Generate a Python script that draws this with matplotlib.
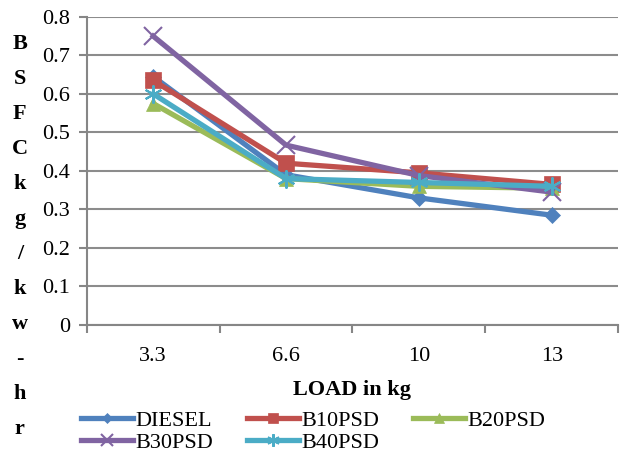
import matplotlib
matplotlib.use("Agg")
import matplotlib.pyplot as plt
import numpy as np

categories = ["3.3", "6.6", "10", "13"]
series_names = ["DIESEL", "B10PSD", "B20PSD", "B30PSD", "B40PSD"]
diesel = [0.645, 0.39, 0.33, 0.285]
b10psd = [0.635, 0.42, 0.395, 0.365]
b20psd = [0.575, 0.38, 0.36, 0.355]
b30psd = [0.75, 0.467, 0.388, 0.345]
b40psd = [0.60, 0.38, 0.37, 0.36]
y_ticks = [0, 0.1, 0.2, 0.3, 0.4, 0.5, 0.6, 0.7, 0.8]
y_tick_labels = ["0", "0.1", "0.2", "0.3", "0.4", "0.5", "0.6", "0.7", "0.8"]

colors = ["#4F81BD", "#C0504D", "#9BBB59", "#8064A2", "#4BACC6"]
markers = ["D", "s", "^", "x", (6, 2, 0)]
msizes = [8, 11, 10, 13, 13]

plt.rcParams['font.family'] = ['Liberation Serif', 'DejaVu Serif']
FS = 16

fig = plt.figure(figsize=(6.2, 4.57), dpi=100)
ax = fig.add_axes([0.140, 0.289, 0.857, 0.674])

x = np.arange(len(categories))
data = [diesel, b10psd, b20psd, b30psd, b40psd]
handles = []
for name, vals, c, m, ms in zip(series_names, data, colors, markers, msizes):
    h, = ax.plot(x, vals, color=c, lw=3.8, marker=m, markersize=ms,
                 markeredgewidth=1.5 if m in ("x", (6, 2, 0)) else 0.5,
                 markeredgecolor=c, markerfacecolor=c, label=name, zorder=3)
    handles.append(h)

ax.set_xlim(-0.5, len(categories) - 0.5)
ax.set_ylim(0, 0.8)
ax.set_yticks(y_ticks)
ax.set_yticklabels(y_tick_labels, fontsize=FS)
ax.set_xticks(x)
ax.set_xticklabels(categories, fontsize=FS)
ax.set_xticks(np.arange(-0.5, len(categories), 1.0), minor=True)
ax.tick_params(axis='x', which='major', length=0, pad=16)
ax.tick_params(axis='x', which='minor', length=6, color="#868686", width=1.5, direction='out')
ax.tick_params(axis='y', length=6, color="#868686", width=1.5, direction='out', pad=6)
ax.grid(axis='y', color="#8c8c8c", lw=1.5)
ax.set_axisbelow(True)
for s in ["top", "right"]:
    ax.spines[s].set_visible(False)
for s in ["left", "bottom"]:
    ax.spines[s].set_color("#868686")
    ax.spines[s].set_linewidth(1.5)

ax.set_xlabel("LOAD in kg", fontsize=FS, fontweight='bold', labelpad=10)

fig.text(0.032, 0.925, "\n".join(list("BSFCkg/kw-hr")), fontsize=FS, fontweight='bold',
         ha='center', va='top', linespacing=2.0)

order = [0, 3, 1, 4, 2]
fig.legend([handles[i] for i in order], [series_names[i] for i in order],
           loc='upper left', bbox_to_anchor=(0.13, 0.102), ncol=3, frameon=False,
           fontsize=FS, handlelength=2.35, handletextpad=0.12, columnspacing=1.5,
           labelspacing=0.05, borderaxespad=0, borderpad=0, markerscale=0.7)

fig.savefig("out.png", dpi=100)
